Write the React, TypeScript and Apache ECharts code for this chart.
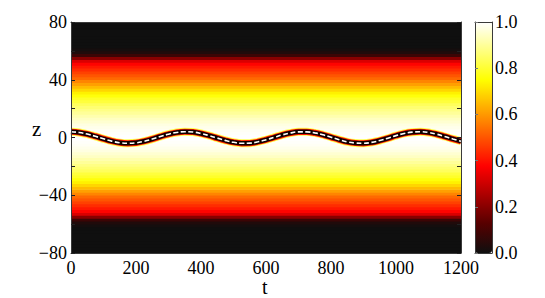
import React, { useEffect, useRef } from "react";
import * as echarts from "echarts";

// t axis
const T_MIN = 0;
const T_MAX = 1200;
const T_STEP = 200;
// z axis
const Z_MIN = -80;
const Z_MAX = 80;
const Z_STEP = 20;
const Z_LABEL_STEP = 40;
const ROW_H = 2;

// background |psi| profile, rows 2 units tall, read at |z| = 1,3,5,...,79
const profileHalf = [
  1.0, 0.995, 0.99, 0.98, 0.97, 0.955, 0.94, 0.92, 0.9, 0.88,
  0.86, 0.84, 0.81, 0.79, 0.76, 0.73, 0.69, 0.65, 0.61, 0.57,
  0.53, 0.5, 0.47, 0.44, 0.41, 0.38, 0.32, 0.2, 0.08, 0.03,
  0.01, 0, 0, 0, 0, 0, 0, 0, 0, 0,
];

// soliton centre position z0(t), read every 25 in t
const tSamples = [
  0, 25, 50, 75, 100, 125, 150, 175, 200, 225, 250, 275, 300, 325, 350, 375,
  400, 425, 450, 475, 500, 525, 550, 575, 600, 625, 650, 675, 700, 725, 750,
  775, 800, 825, 850, 875, 900, 925, 950, 975, 1000, 1025, 1050, 1075, 1100,
  1125, 1150, 1175, 1200,
];
const centerZ = [
  4.0, 3.5, 2.4, 0.8, -0.9, -2.5, -3.6, -4.0, -3.7, -2.6, -1.1, 0.7, 2.3, 3.5,
  4.0, 3.8, 2.8, 1.3, -0.4, -2.0, -3.3, -4.0, -3.9, -3.0, -1.6, 0.1, 1.8, 3.1,
  3.9, 3.9, 3.2, 1.9, 0.2, -1.5, -3.0, -3.8, -4.0, -3.4, -2.1, -0.5, 1.3, 2.8,
  3.7, 4.0, 3.5, 2.3, 0.7, -1.0, -2.6,
];

const HOT = [
  "#0f0f0f", "#550000", "#aa0000", "#ff0000", "#ff5500",
  "#ffaa00", "#ffff00", "#ffff80", "#ffffff",
];

const FONT = "Liberation Serif, Times New Roman, serif";

export default function App() {
  const ref = useRef<HTMLDivElement>(null);

  useEffect(() => {
    if (!ref.current) return;
    const chart = echarts.init(ref.current, undefined, { renderer: "svg" });

    const nRows = (Z_MAX - Z_MIN) / ROW_H;
    const rows: number[][] = [];
    for (let i = 0; i < nRows; i++) {
      const lo = Z_MIN + ROW_H * i;
      const mid = lo + ROW_H / 2;
      const idx = (Math.abs(mid) - 1) / 2;
      rows.push([lo, lo + ROW_H, profileHalf[idx]]);
    }
    const lineData = tSamples.map((t, i) => [t, centerZ[i]]);

    const axisColor = "#3a3a3a";
    const grid = { left: 71, right: 84, top: 22, bottom: 45 };

    const mkLine = (width: number, color: string, opacity = 1, type: any = "solid") => ({
      type: "line",
      xAxisIndex: 0,
      yAxisIndex: 0,
      data: lineData,
      smooth: 0.4,
      showSymbol: false,
      symbol: "none",
      clip: true,
      silent: true,
      lineStyle: { width, color, opacity, type, cap: "butt" },
    });

    const hidden = {
      axisTick: { show: false }, axisLabel: { show: false }, splitLine: { show: false },
    };
    const border = { show: true, onZero: false, lineStyle: { color: axisColor, width: 1 } };

    chart.setOption({
      animation: false,
      backgroundColor: "#ffffff",
      textStyle: { fontFamily: FONT },
      grid: [grid, { left: 475, top: 22, width: 17, height: 231 }],
      visualMap: {
        type: "continuous",
        min: 0,
        max: 1,
        seriesIndex: 0,
        dimension: 2,
        calculable: false,
        realtime: false,
        left: 475,
        top: 22,
        itemWidth: 17,
        itemHeight: 231,
        padding: 0,
        text: ["", ""],
        showLabel: false,
        inRange: { color: HOT },
        hoverLink: false,
      },
      xAxis: [
        {
          type: "value", gridIndex: 0, min: T_MIN, max: T_MAX, interval: T_STEP,
          position: "bottom", z: 10,
          axisLine: border,
          axisTick: { show: false },
          splitLine: { show: false },
          axisLabel: {
            color: "#000", fontFamily: FONT, fontSize: 18, margin: 6,
            formatter: (v: number) => String(v),
          },
        },
        {
          type: "value", gridIndex: 0, min: T_MIN, max: T_MAX, position: "top", z: 10,
          axisLine: border, ...hidden,
        },
        {
          type: "value", gridIndex: 1, min: 0, max: 1, position: "bottom", z: 10,
          axisLine: border, ...hidden,
        },
        {
          type: "value", gridIndex: 1, min: 0, max: 1, position: "top", z: 10,
          axisLine: border, ...hidden,
        },
      ],
      yAxis: [
        {
          type: "value", gridIndex: 0, min: Z_MIN, max: Z_MAX, interval: Z_STEP,
          position: "left", z: 10,
          axisLine: border,
          axisTick: { show: true, inside: true, length: 4, lineStyle: { color: "#222" } },
          splitLine: { show: false },
          axisLabel: {
            color: "#000", fontFamily: FONT, fontSize: 18, margin: 4,
            formatter: (v: number) =>
              v % Z_LABEL_STEP === 0 ? (v < 0 ? "\u2212" + Math.abs(v) : String(v)) : "",
          },
        },
        {
          type: "value", gridIndex: 0, min: Z_MIN, max: Z_MAX, interval: Z_STEP,
          position: "right", z: 10,
          axisLine: border,
          axisTick: { show: true, inside: true, length: 4, lineStyle: { color: "#222" } },
          axisLabel: { show: false }, splitLine: { show: false },
        },
        {
          type: "value", gridIndex: 1, min: 0, max: 1, interval: 0.2, position: "right", z: 10,
          axisLine: border,
          axisTick: { show: false },
          splitLine: { show: false },
          axisLabel: {
            color: "#000", fontFamily: FONT, fontSize: 18, margin: 3,
            formatter: (v: number) => v.toFixed(1),
          },
        },
        {
          type: "value", gridIndex: 1, min: 0, max: 1, interval: 0.2, position: "left", z: 10,
          axisLine: border,
          axisTick: { show: true, inside: true, length: 3, lineStyle: { color: "#777" } },
          axisLabel: { show: false }, splitLine: { show: false },
        },
      ],
      series: [
        {
          type: "custom",
          xAxisIndex: 0,
          yAxisIndex: 0,
          data: rows,
          silent: true,
          clip: true,
          encode: { x: -1, y: [0, 1] },
          renderItem: (params: any, api: any) => {
            const zl = api.value(0);
            const zh = api.value(1);
            const p1 = api.coord([T_MIN, zh]);
            const p2 = api.coord([T_MAX, zl]);
            return {
              type: "rect",
              shape: {
                x: p1[0],
                y: p1[1] - 0.35,
                width: p2[0] - p1[0],
                height: p2[1] - p1[1] + 0.7,
              },
              style: { fill: api.visual("color") },
            };
          },
        },
        mkLine(8, "#ffff40", 0.9),
        mkLine(6.2, "#ff1a00"),
        mkLine(4.5, "#120000"),
        mkLine(1.6, "#ffffff", 1, [5, 2.5]),
      ],
      graphic: [
        {
          type: "text", left: 32, top: 118,
          style: { text: "z", fontFamily: FONT, fontSize: 21, fill: "#000" },
        },
        {
          type: "text", left: 262, top: 277,
          style: { text: "t", fontFamily: FONT, fontSize: 20, fill: "#000" },
        },
      ],
    });

    return () => chart.dispose();
  }, []);

  return (
    <div
      ref={ref}
      style={{ position: "fixed", left: 0, top: 0, width: 545, height: 298 }}
    />
  );
}
